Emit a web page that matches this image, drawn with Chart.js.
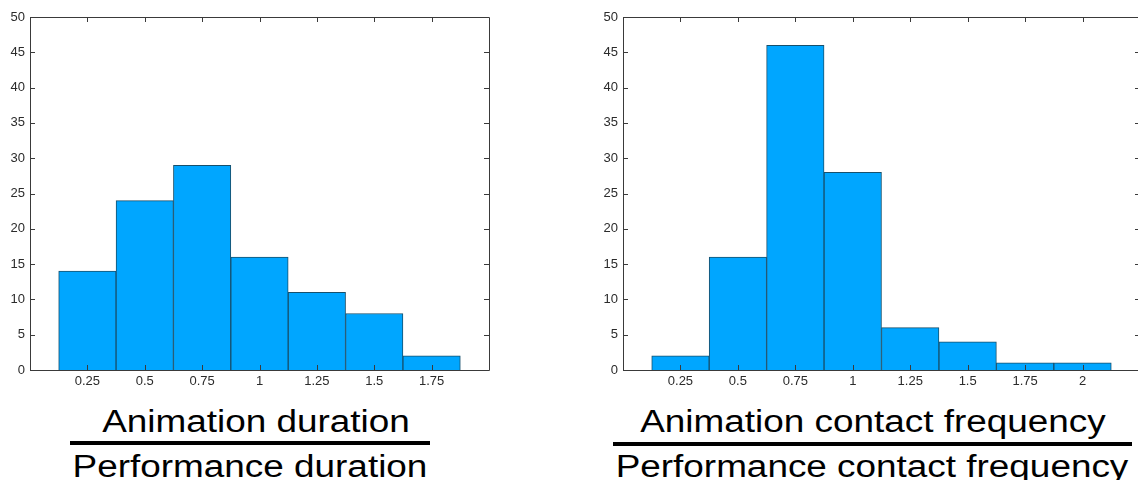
<!DOCTYPE html>
<html>
<head>
<meta charset="utf-8">
<script src="https://cdn.jsdelivr.net/npm/chart.js@4/dist/chart.umd.min.js"></script>
<style>
  html, body { margin: 0; padding: 0; background: #fff; overflow: hidden; }
  #page { position: relative; width: 1138px; height: 480px; overflow: hidden; }
  canvas { position: absolute; top: 0; }
  .ratio-text {
    position: absolute; width: 640px; text-align: center;
    font-family: "Liberation Sans", Arial, sans-serif; font-size: 31px; line-height: 31px;
    color: #000; white-space: nowrap; transform: scaleX(1.19); transform-origin: center;
  }
  .ratio-bar { position: absolute; background: #000; height: 4px; }
</style>
</head>
<body>
<div id="page">
  <canvas id="durationChart"></canvas>
  <canvas id="contactChart"></canvas>

  <div class="ratio-text" style="left:-64px; top:406px;">Animation duration</div>
  <div class="ratio-bar" style="left:70px; width:360px; top:441px;"></div>
  <div class="ratio-text" style="left:-70px; top:451px;">Performance duration</div>

  <div class="ratio-text" style="left:553px; top:406px;">Animation contact frequency</div>
  <div class="ratio-bar" style="left:613px; width:519px; top:442px;"></div>
  <div class="ratio-text" style="left:552px; top:451px;">Performance contact frequency</div>
</div>

<script>
// Histogram of animation/performance duration ratios
const durationBins = [0.25, 0.5, 0.75, 1, 1.25, 1.5, 1.75];
const durationCounts = [14, 24, 29, 16, 11, 8, 2];
const durationTickLabels = ['0.25', '0.5', '0.75', '1', '1.25', '1.5', '1.75'];

// Histogram of animation/performance contact frequency ratios
const contactBins = [0.25, 0.5, 0.75, 1, 1.25, 1.5, 1.75, 2];
const contactCounts = [2, 16, 46, 28, 6, 4, 1, 1];
const contactTickLabels = ['0.25', '0.5', '0.75', '1', '1.25', '1.5', '1.75', '2'];

// Shared count axis
const countMin = 0;
const countMax = 50;
const countStep = 5;

const TICK_FONT = { family: '"Liberation Sans", Arial, sans-serif', size: 13 };
const TICK_COLOR = '#2b2b2b';
const FRAME_COLOR = '#3a3a3a';

// Draws the box round the plot area and short inward tick marks on all four sides
const framePlugin = {
  id: 'frame',
  afterDatasetsDraw(chart) {
    const { ctx, chartArea: a, scales: { x, y } } = chart;
    const len = 5;
    ctx.save();
    ctx.strokeStyle = FRAME_COLOR;
    ctx.lineWidth = 1;
    ctx.beginPath();
    ctx.rect(Math.round(a.left) + 0.5, Math.round(a.top) + 0.5,
             Math.round(a.right - a.left), Math.round(a.bottom - a.top));
    ctx.stroke();
    ctx.beginPath();
    x.ticks.forEach(t => {
      const px = Math.round(x.getPixelForValue(t.value)) + 0.5;
      ctx.moveTo(px, a.bottom); ctx.lineTo(px, a.bottom - len);
      ctx.moveTo(px, a.top); ctx.lineTo(px, a.top + len);
    });
    y.ticks.forEach(t => {
      const py = Math.round(y.getPixelForValue(t.value)) + 0.5;
      ctx.moveTo(a.left, py); ctx.lineTo(a.left + len, py);
      ctx.moveTo(a.right, py); ctx.lineTo(a.right - len, py);
    });
    ctx.stroke();
    ctx.restore();
  }
};

function makeHistogram(canvasId, opts) {
  const canvas = document.getElementById(canvasId);
  canvas.width = opts.width;
  canvas.height = opts.height;
  canvas.style.left = opts.left + 'px';
  canvas.style.width = opts.width + 'px';
  canvas.style.height = opts.height + 'px';

  return new Chart(canvas, {
    type: 'bar',
    data: {
      datasets: [{
        data: opts.bins.map((b, i) => ({ x: b, y: opts.counts[i] })),
        backgroundColor: '#00a6ff',
        borderColor: '#17506c',
        borderWidth: 1,
        barPercentage: 1,
        categoryPercentage: 1
      }]
    },
    options: {
      responsive: false,
      animation: false,
      devicePixelRatio: 1,
      layout: { padding: { top: 17, right: opts.rightPad, bottom: opts.height - 390, left: 0 } },
      plugins: { legend: { display: false }, tooltip: { enabled: false } },
      scales: {
        x: {
          type: 'linear',
          min: 0,
          max: opts.xMax,
          offset: false,
          grid: { display: false, drawTicks: false },
          border: { display: false },
          afterBuildTicks: s => { s.ticks = opts.bins.map(v => ({ value: v })); },
          afterFit: s => { s.height = 20; },
          ticks: {
            autoSkip: false, maxRotation: 0, padding: 4,
            font: TICK_FONT, color: TICK_COLOR,
            callback: (v, i) => opts.tickLabels[i]
          }
        },
        y: {
          min: countMin,
          max: countMax,
          grid: { display: false, drawTicks: false },
          border: { display: false },
          afterFit: s => { s.width = opts.axisWidth; },
          ticks: { stepSize: countStep, padding: 5, font: TICK_FONT, color: TICK_COLOR }
        }
      }
    },
    plugins: [framePlugin]
  });
}

makeHistogram('durationChart', {
  bins: durationBins, counts: durationCounts, tickLabels: durationTickLabels,
  xMax: 2, left: 0, width: 500, height: 400, axisWidth: 30, rightPad: 11
});

makeHistogram('contactChart', {
  bins: contactBins, counts: contactCounts, tickLabels: contactTickLabels,
  xMax: 2.25, left: 590, width: 560, height: 400, axisWidth: 33, rightPad: 10
});
</script>
</body>
</html>
